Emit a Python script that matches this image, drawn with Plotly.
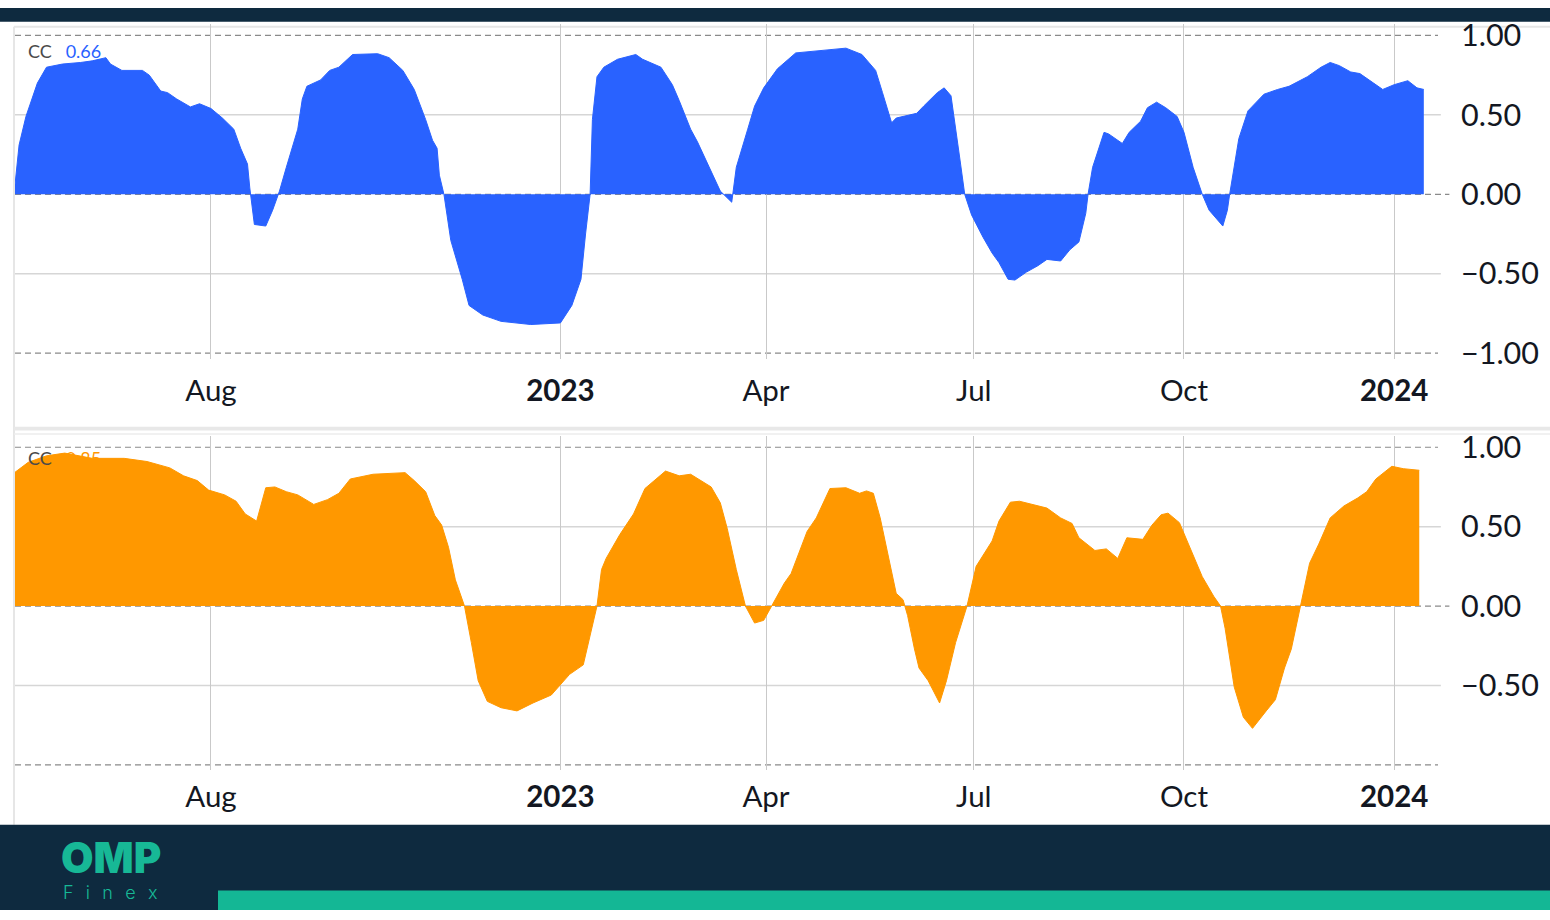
import plotly.graph_objects as go

W, H = 1550, 920

# ---------------- data ----------------
cc1_dates = [
    "2022-05-07", "2022-05-09", "2022-05-12", "2022-05-17", "2022-05-21", "2022-05-28",
    "2022-06-05", "2022-06-10", "2022-06-16", "2022-06-18", "2022-06-23", "2022-07-02",
    "2022-07-05", "2022-07-10", "2022-07-13", "2022-07-17", "2022-07-23", "2022-07-27",
    "2022-08-01", "2022-08-06", "2022-08-11", "2022-08-14", "2022-08-17", "2022-08-18",
    "2022-08-20", "2022-08-25", "2022-08-28", "2022-08-31", "2022-09-03", "2022-09-08",
    "2022-09-10", "2022-09-12", "2022-09-18", "2022-09-22", "2022-09-26", "2022-10-02",
    "2022-10-13", "2022-10-18", "2022-10-24", "2022-10-29", "2022-11-03", "2022-11-06",
    "2022-11-08", "2022-11-09", "2022-11-11", "2022-11-14", "2022-11-19", "2022-11-22",
    "2022-11-28", "2022-12-06", "2022-12-19", "2023-01-01", "2023-01-06", "2023-01-10",
    "2023-01-12", "2023-01-14", "2023-01-15", "2023-01-17", "2023-01-20", "2023-01-26",
    "2023-02-03", "2023-02-06", "2023-02-14", "2023-02-19", "2023-02-22", "2023-02-27",
    "2023-03-02", "2023-03-07", "2023-03-12", "2023-03-17", "2023-03-19", "2023-03-24",
    "2023-03-27", "2023-03-31", "2023-04-06", "2023-04-14", "2023-04-26", "2023-05-06",
    "2023-05-13", "2023-05-19", "2023-05-22", "2023-05-26", "2023-05-28", "2023-06-06",
    "2023-06-09", "2023-06-15", "2023-06-18", "2023-06-21", "2023-06-25", "2023-06-27",
    "2023-06-30", "2023-07-05", "2023-07-09", "2023-07-12", "2023-07-16", "2023-07-19",
    "2023-07-24", "2023-07-29", "2023-08-02", "2023-08-08", "2023-08-12", "2023-08-16",
    "2023-08-19", "2023-08-20", "2023-08-22", "2023-08-27", "2023-08-29", "2023-09-04",
    "2023-09-07", "2023-09-12", "2023-09-15", "2023-09-19", "2023-09-23", "2023-09-28",
    "2023-10-01", "2023-10-05", "2023-10-09", "2023-10-12", "2023-10-18", "2023-10-20",
    "2023-10-21", "2023-10-23", "2023-10-25", "2023-10-29", "2023-11-05", "2023-11-11",
    "2023-11-16", "2023-11-24", "2023-11-30", "2023-12-04", "2023-12-08", "2023-12-13",
    "2023-12-17", "2023-12-23", "2023-12-27", "2024-01-01", "2024-01-07", "2024-01-11",
    "2024-01-14",
]
cc1_values = [
    0.03, 0.31, 0.49, 0.70, 0.80, 0.82,
    0.83, 0.84, 0.86, 0.82, 0.78, 0.78,
    0.75, 0.65, 0.64, 0.60, 0.55, 0.57,
    0.54, 0.48, 0.41, 0.29, 0.19, 0.04,
    -0.19, -0.20, -0.10, 0.02, 0.17, 0.41,
    0.60, 0.68, 0.72, 0.78, 0.80, 0.88,
    0.885, 0.86, 0.78, 0.66, 0.47, 0.34,
    0.29, 0.12, 0.0, -0.29, -0.535, -0.70,
    -0.76, -0.80, -0.82, -0.81, -0.70, -0.535,
    -0.25, 0.0, 0.47, 0.74, 0.80, 0.85,
    0.88, 0.85, 0.80, 0.69, 0.59, 0.41,
    0.33, 0.17, 0.02, -0.05, 0.17, 0.41,
    0.555, 0.67, 0.79, 0.89, 0.905, 0.92,
    0.88, 0.78, 0.64, 0.45, 0.48, 0.51,
    0.555, 0.64, 0.67, 0.62, 0.21, 0.0,
    -0.13, -0.27, -0.37, -0.43, -0.535, -0.54,
    -0.49, -0.45, -0.41, -0.42, -0.35, -0.30,
    -0.12, 0.0, 0.17, 0.39, 0.38, 0.32,
    0.39, 0.46, 0.545, 0.58, 0.545, 0.49,
    0.39, 0.17, 0.0, -0.10, -0.20, -0.10,
    0.0, 0.17, 0.35, 0.525, 0.63, 0.66,
    0.68, 0.74, 0.80, 0.83, 0.81, 0.77,
    0.76, 0.70, 0.66, 0.69, 0.715, 0.67,
    0.66,
]

cc2_dates = [
    "2022-05-07", "2022-05-13", "2022-05-21", "2022-05-29", "2022-06-10", "2022-06-24",
    "2022-07-04", "2022-07-14", "2022-07-20", "2022-07-26", "2022-07-31", "2022-08-07",
    "2022-08-12", "2022-08-16", "2022-08-21", "2022-08-25", "2022-08-29", "2022-09-03",
    "2022-09-08", "2022-09-15", "2022-09-21", "2022-09-26", "2022-10-01", "2022-10-11",
    "2022-10-25", "2022-10-29", "2022-11-03", "2022-11-07", "2022-11-10", "2022-11-13",
    "2022-11-16", "2022-11-20", "2022-11-23", "2022-11-26", "2022-11-30", "2022-12-06",
    "2022-12-13", "2022-12-20", "2022-12-28", "2023-01-05", "2023-01-11", "2023-01-14",
    "2023-01-17", "2023-01-19", "2023-01-21", "2023-01-27", "2023-02-02", "2023-02-07",
    "2023-02-16", "2023-02-22", "2023-02-27", "2023-03-08", "2023-03-12", "2023-03-15",
    "2023-03-19", "2023-03-23", "2023-03-27", "2023-03-31", "2023-04-04", "2023-04-09",
    "2023-04-12", "2023-04-19", "2023-04-23", "2023-04-29", "2023-05-06", "2023-05-12",
    "2023-05-15", "2023-05-18", "2023-05-21", "2023-05-24", "2023-05-28", "2023-05-31",
    "2023-06-02", "2023-06-05", "2023-06-07", "2023-06-11", "2023-06-16", "2023-06-19",
    "2023-06-23", "2023-06-28", "2023-07-02", "2023-07-09", "2023-07-12", "2023-07-17",
    "2023-07-21", "2023-08-02", "2023-08-08", "2023-08-13", "2023-08-16", "2023-08-23",
    "2023-08-28", "2023-09-02", "2023-09-06", "2023-09-13", "2023-09-17", "2023-09-21",
    "2023-09-24", "2023-09-29", "2023-10-03", "2023-10-09", "2023-10-14", "2023-10-17",
    "2023-10-19", "2023-10-23", "2023-10-27", "2023-10-31", "2023-11-06", "2023-11-10",
    "2023-11-14", "2023-11-17", "2023-11-21", "2023-11-25", "2023-11-29", "2023-12-04",
    "2023-12-10", "2023-12-16", "2023-12-20", "2023-12-24", "2023-12-31", "2024-01-05",
    "2024-01-12",
]
cc2_values = [
    0.84, 0.905, 0.946, 0.963, 0.93, 0.93,
    0.91, 0.87, 0.82, 0.79, 0.73, 0.70,
    0.66, 0.58, 0.535, 0.745, 0.75, 0.72,
    0.70, 0.64, 0.67, 0.71, 0.80, 0.83,
    0.84, 0.79, 0.72, 0.57, 0.51, 0.37,
    0.165, 0.0, -0.23, -0.47, -0.60, -0.64,
    -0.66, -0.61, -0.56, -0.43, -0.37, -0.185,
    0.0, 0.23, 0.30, 0.45, 0.58, 0.74,
    0.85, 0.82, 0.83, 0.75, 0.65, 0.49,
    0.23, 0.0, -0.107, -0.09, 0.01, 0.144,
    0.205, 0.47, 0.555, 0.74, 0.745, 0.71,
    0.725, 0.71, 0.555, 0.35, 0.08, 0.04,
    -0.06, -0.27, -0.39, -0.47, -0.61, -0.47,
    -0.23, 0.0, 0.25, 0.41, 0.535, 0.654,
    0.66, 0.617, 0.555, 0.52, 0.43, 0.35,
    0.36, 0.30, 0.43, 0.42, 0.51, 0.575,
    0.585, 0.525, 0.39, 0.185, 0.062, 0.0,
    -0.14, -0.51, -0.70, -0.77, -0.66, -0.59,
    -0.39, -0.27, 0.0, 0.27, 0.39, 0.555,
    0.63, 0.68, 0.72, 0.80, 0.88, 0.865,
    0.855,
]

tick_dates = ["2022-08-01", "2023-01-01", "2023-04-01", "2023-07-01", "2023-10-01", "2024-01-01"]
tick_labels = ["Aug", "<b>2023</b>", "Apr", "Jul", "Oct", "<b>2024</b>"]
y_ticks_top = [-1.0, -0.5, 0.0, 0.5, 1.0]
y_ticks_bottom = [-0.5, 0.0, 0.5, 1.0]
legend_name = "CC"
legend_value_top = "0.66"
legend_value_bottom = "0.85"

# ---------------- styling ----------------
BLUE = "#2962ff"
ORANGE = "#ff9800"
NAVY = "#0e2a3f"
TEAL = "#14b795"
FONT = "Lato"
TICK_COLOR = "#131722"

x_range = ["2022-05-07 05:00", "2024-01-20 05:00"]
x_domain = [15 / W, 1438 / W]


def py(p):
    return 1 - p / H


def px(p):
    return p / W


top_range = [-1.04, 1.07]
bot_range = [-1.03, 1.07]
# pixel rows: value v -> 190 - 162 v (top), 610 - 162 v (bottom)
top_domain = [py(190 + 162 * 1.04), py(190 - 162 * 1.07)]
bot_domain = [py(610 + 162 * 1.03), py(610 - 162 * 1.07)]

fig = go.Figure()
fig.add_trace(go.Scatter(
    x=cc1_dates, y=cc1_values, mode="lines", fill="tozeroy",
    line=dict(color=BLUE, width=1), fillcolor=BLUE,
    xaxis="x", yaxis="y", hoverinfo="skip", showlegend=False,
))
fig.add_trace(go.Scatter(
    x=cc2_dates, y=cc2_values, mode="lines", fill="tozeroy",
    line=dict(color=ORANGE, width=1), fillcolor=ORANGE,
    xaxis="x2", yaxis="y2", hoverinfo="skip", showlegend=False,
))

xtickfont = dict(family=FONT, size=29.5, color=TICK_COLOR)
ytickfont = dict(family=FONT, size=30.5, color=TICK_COLOR)
common_x = dict(
    type="date", range=x_range, domain=x_domain,
    tickvals=tick_dates, ticktext=tick_labels,
    showgrid=True, gridcolor="#c9c9c9", gridwidth=1,
    zeroline=False, showline=False, ticks="", tickfont=xtickfont,
    fixedrange=True,
)
common_y = dict(
    side="right", tickformat=".2f", showgrid=False, zeroline=False,
    showline=False, ticks="", tickfont=ytickfont, ticklabelstandoff=22,
    fixedrange=True,
)

fig.update_layout(
    width=W, height=H,
    margin=dict(l=0, r=0, t=0, b=0),
    paper_bgcolor="white", plot_bgcolor="rgba(0,0,0,0)",
    showlegend=False,
    xaxis=dict(common_x, anchor="y", ticklabelstandoff=11),
    yaxis=dict(common_y, domain=top_domain, range=top_range, tickvals=y_ticks_top, anchor="x"),
    xaxis2=dict(common_x, anchor="y2", ticklabelstandoff=7),
    yaxis2=dict(common_y, domain=bot_domain, range=bot_range, tickvals=y_ticks_bottom, anchor="x2"),
)

shapes = []
# horizontal reference lines in each panel
for xa, ya in (("x", "y"), ("x2", "y2")):
    for v in (-0.5, 0.5):
        shapes.append(dict(type="line", xref=f"{xa} domain", yref=ya, x0=0, x1=1.002, y0=v, y1=v,
                           line=dict(color="#d6d6d6", width=1.5), layer="below"))
    for v in (-1.0, 1.0):
        shapes.append(dict(type="line", xref=f"{xa} domain", yref=ya, x0=0, x1=1, y0=v, y1=v,
                           line=dict(color="#8a8a8a", width=1.2, dash="6px,4px"), layer="below"))
    shapes.append(dict(type="line", xref=f"{xa} domain", yref=ya, x0=0, x1=1.008, y0=0, y1=0,
                       line=dict(color="#8a8a8a", width=1.2, dash="6px,4px"), layer="below"))

# page decoration
shapes += [
    dict(type="rect", xref="paper", yref="paper", x0=0, x1=1, y0=py(14), y1=1,
         fillcolor=NAVY, line=dict(width=0), layer="below"),
    dict(type="line", xref="paper", yref="paper", x0=px(14), x1=1, y0=py(19), y1=py(19),
         line=dict(color="#e6e6e6", width=2), layer="below"),
    dict(type="line", xref="paper", yref="paper", x0=px(14), x1=px(14), y0=py(19), y1=py(833),
         line=dict(color="#e6e6e6", width=2), layer="below"),
    dict(type="rect", xref="paper", yref="paper", x0=px(14), x1=1, y0=py(431), y1=py(427),
         fillcolor="#e8e8e8", line=dict(width=0), layer="below"),
    dict(type="line", xref="paper", yref="paper", x0=px(14), x1=1, y0=py(434.5), y1=py(434.5),
         line=dict(color="#ededed", width=1.5), layer="below"),
    dict(type="rect", xref="paper", yref="paper", x0=0, x1=1, y0=0, y1=py(833),
         fillcolor=NAVY, line=dict(width=0), layer="below"),
    dict(type="rect", xref="paper", yref="paper", x0=px(218), x1=1, y0=0, y1=py(900),
         fillcolor=TEAL, line=dict(width=0), layer="below"),
]
fig.update_layout(shapes=shapes)

NB = "\u00a0"
annotations = [
    dict(xref="paper", yref="paper", x=px(26), y=py(44), xanchor="left", yanchor="middle",
         showarrow=False,
         text=f"{legend_name}{NB*3}<span style='color:{BLUE}'>{legend_value_top}</span>",
         font=dict(family=FONT, size=18, color="#4a4a4a")),
    dict(xref="paper", yref="paper", x=px(26), y=py(459), xanchor="left", yanchor="middle",
         showarrow=False,
         text=f"{legend_name}{NB*3}<span style='color:{ORANGE}'>{legend_value_bottom}</span>",
         font=dict(family=FONT, size=18, color="#4a4a4a")),
    dict(xref="paper", yref="paper", x=px(59), y=py(866), xanchor="left", yanchor="middle",
         showarrow=False, text="OMP",
         font=dict(family="Inter", size=42, color="#17b896", weight=900)),
    dict(xref="paper", yref="paper", x=px(61), y=py(902), xanchor="left", yanchor="middle",
         showarrow=False, text="F\u2002\u2009i\u2002\u2009n\u2002\u2009e\u2002\u2009x",
         font=dict(family="Inter", size=18, color="#17b896", weight=300)),
]
fig.update_layout(annotations=annotations)

fig.write_html("out.html")
